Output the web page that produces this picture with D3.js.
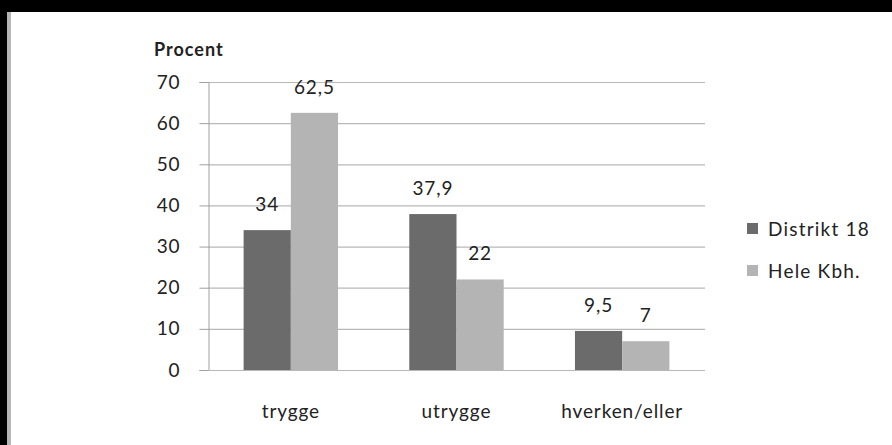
<!DOCTYPE html>
<html><head><meta charset="utf-8">
<script src="https://cdn.jsdelivr.net/npm/d3@7"></script>
<style>
html,body{margin:0;padding:0;background:#fff;}
svg{display:block;}
text{font-family:Lato,"Open Sans",sans-serif;fill:#222;}
</style></head>
<body>
<script>
const categories = ["trygge","utrygge","hverken/eller"];
const seriesNames = ["Distrikt 18","Hele Kbh."];
const distrikt18 = [34, 37.9, 9.5];
const heleKbh = [62.5, 22, 7];
const valueLabels = [["34","37,9","9,5"],["62,5","22","7"]];
const yTicks = [0,10,20,30,40,50,60,70];
const colors = ["#6b6b6b","#b4b4b4"];

const W = 892, H = 445;
const svg = d3.select("body").append("svg").attr("width", W).attr("height", H);
svg.append("rect").attr("width", W).attr("height", H).attr("fill", "#fff");
// frame
svg.append("rect").attr("x",0).attr("y",0).attr("width",W).attr("height",12).attr("fill","#000");
svg.append("rect").attr("x",0).attr("y",0).attr("width",7).attr("height",H).attr("fill","#000");
svg.append("rect").attr("x",7).attr("y",12).attr("width",4).attr("height",H-12).attr("fill","#b5b5b5");

const x0 = 208, x1 = 705, yTop = 82, yBot = 370;
const x = d3.scaleBand().domain(categories).range([x0, x1]).paddingInner(0.43).paddingOuter(0.215);
const xs = d3.scaleBand().domain([0,1]).range([0, x.bandwidth()]);
const y = d3.scaleLinear().domain([0,70]).range([yBot, yTop]);

const FS = 19, LS = "0.9px";

// gridlines
svg.append("g").selectAll("line").data(yTicks.filter(d=>d>0)).join("line")
  .attr("x1", x0).attr("x2", x1).attr("y1", d=>y(d)+0.5).attr("y2", d=>y(d)+0.5)
  .attr("stroke", "#b8b8b8").attr("stroke-width", 1.2);

// y axis
const yAxis = d3.axisLeft(y).tickValues(yTicks).tickSize(9).tickPadding(19).tickFormat(d3.format("d"));
const gy = svg.append("g").attr("transform", `translate(${x0+0.5},0)`).call(yAxis);
gy.select(".domain").attr("stroke","#a0a0a0");
gy.selectAll(".tick line").attr("stroke","#a0a0a0");
gy.selectAll(".tick text").attr("font-size", FS).attr("fill","#222")
  .style("font-family","Lato, sans-serif").style("letter-spacing", LS);

// x axis
const xAxis = d3.axisBottom(x).tickSize(0).tickPadding(34);
const gx = svg.append("g").attr("transform", `translate(0,${yBot+0.5})`).call(xAxis);
gx.select(".domain").attr("stroke","#b8b8b8").attr("stroke-width",1.2).attr("d", `M${x0},0H${x1}`);
gx.selectAll(".tick text").attr("font-size", FS).attr("fill","#222")
  .style("font-family","Lato, sans-serif").style("letter-spacing", LS);

// bars
const series = [distrikt18, heleKbh];
series.forEach((vals, si) => {
  const g = svg.append("g");
  g.selectAll("rect").data(vals).join("rect")
    .attr("x", (d,i)=>x(categories[i]) + xs(si))
    .attr("y", d=>y(d))
    .attr("width", xs.bandwidth())
    .attr("height", d=>yBot - y(d))
    .attr("fill", colors[si]);
  g.selectAll("text").data(vals).join("text")
    .attr("x", (d,i)=>x(categories[i]) + xs(si) + xs.bandwidth()/2)
    .attr("y", d=>y(d) - 19)
    .attr("text-anchor","middle")
    .attr("font-size", FS)
    .style("letter-spacing", LS)
    .text((d,i)=>valueLabels[si][i]);
});

// y title
svg.append("text").attr("x", 154).attr("y", 56).attr("font-size", 18).attr("font-weight","bold")
  .style("letter-spacing","1px").text("Procent");

// legend
const leg = svg.append("g");
seriesNames.forEach((n, i) => {
  const cy = 229 + i*42;
  leg.append("rect").attr("x", 747).attr("y", cy-6).attr("width", 11).attr("height", 11).attr("fill", colors[i]);
  leg.append("text").attr("x", 768).attr("y", cy+7).attr("font-size", FS).style("letter-spacing","1.2px").text(n);
});
</script>
</body></html>
